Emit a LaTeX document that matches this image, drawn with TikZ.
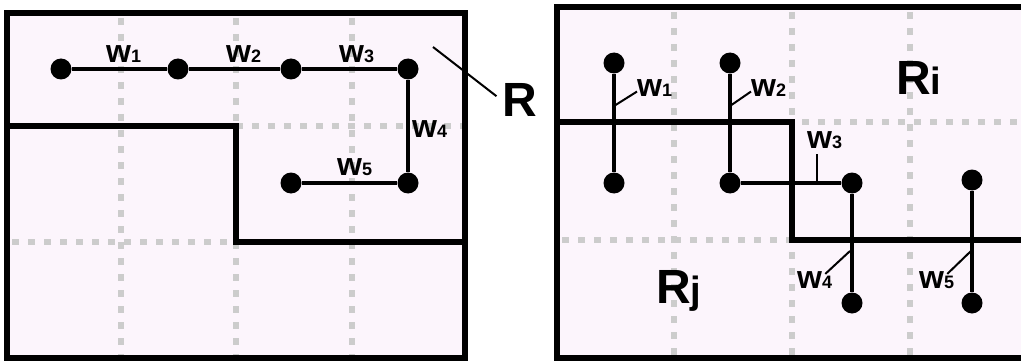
\documentclass[tikz,border=0pt]{standalone}
\usepackage{fontspec}
\setmainfont{Liberation Sans}
\usepackage{xcolor}
\definecolor{bgpink}{RGB}{252,245,252}
\newcommand{\wn}[1]{w{\fontsize{18}{18}\selectfont #1}}

\begin{document}
\begin{tikzpicture}[x=1pt, y=-1pt,
    panel/.style={draw, line width=6pt, fill=bgpink},
    gridline/.style={draw=gray!40, line width=6.5pt, dash pattern=on 7pt off 9pt},
    cut/.style={line width=6pt, line join=miter},
    wire/.style={line width=4.5pt},
    term/.style={circle, fill=black, minimum size=21pt, inner sep=0pt},
    lead/.style={line width=2pt},
    lab/.style={font=\bfseries\fontsize{32}{32}\selectfont, inner sep=0pt, anchor=base west},
    big/.style={font=\bfseries\fontsize{48}{48}\selectfont, inner sep=0pt, anchor=base west}
]
\useasboundingbox (0,0) rectangle (1021,361);
\clip (0,0) rectangle (1021,361);

% Left panel
\draw[panel] (7,13) rectangle (465,358);
\foreach \x in {121,236,352} \draw[gridline] (\x,18) -- (\x,358);
\foreach \y in {126,242} \draw[gridline] (12,\y) -- (465,\y);
\draw[cut] (7,126) -- (236,126) -- (236,242) -- (465,242);
\draw[line width=6pt] (7,13) rectangle (465,358);

% Left net
\node[term] (a1) at (61,69) {};
\node[term] (a2) at (178,69) {};
\node[term] (a3) at (291,69) {};
\node[term] (a4) at (408,69) {};
\node[term] (a5) at (408,183) {};
\node[term] (a6) at (291,183) {};
\draw[wire] (a1) -- (a2) -- (a3) -- (a4) -- (a5) -- (a6);

\node[lab] (lw1) at (106,63) {\wn{1}};
\node[lab] (lw2) at (226,63) {\wn{2}};
\node[lab] (lw3) at (339,63) {\wn{3}};
\node[lab] (lw4) at (412,137) {\wn{4}};
\node[lab] (lw5) at (337,175) {\wn{5}};

% Region label R
\node[big] (lR) at (502,117) {R};
\coordinate (kR) at (433,47);
\draw[lead, shorten >=7pt] (kR) -- (lR.west);

% Right panel
\draw[panel] (557,7) rectangle (1035,358);
\foreach \x in {674,792,910} \draw[gridline] (\x,12) -- (\x,358);
\foreach \y in {122,240} \draw[gridline] (562,\y) -- (1035,\y);
\draw[cut] (557,122) -- (792,122) -- (792,240) -- (1035,240);
\draw[line width=6pt] (557,7) rectangle (1035,358);

% Right nets
\node[term] (b1) at (614,63) {};
\node[term] (b2) at (614,183) {};
\node[term] (b3) at (730,63) {};
\node[term] (b4) at (730,183) {};
\node[term] (b5) at (852,183) {};
\node[term] (b6) at (852,303) {};
\node[term] (b7) at (972,180) {};
\node[term] (b8) at (972,303) {};
\draw[wire] (b1) -- (b2);
\draw[wire] (b3) -- (b4) -- (b5) -- (b6);
\draw[wire] (b7) -- (b8);

\node[lab] (rw1) at (637,97) {\wn{1}};
\node[lab] (rw2) at (751,97) {\wn{2}};
\node[lab] (rw3) at (807,148) {\wn{3}};
\node[lab] (rw4) at (797,288) {\wn{4}};
\node[lab] (rw5) at (919,288) {\wn{5}};

% Leaders from wires to labels
\coordinate (k1) at (614,106);
\coordinate (k2) at (730,106);
\coordinate (k3) at (817,183);
\coordinate (k4) at (850,251);
\coordinate (k5) at (971,251);
\draw[lead] (k1) -- ([yshift=-3pt]rw1.west);
\draw[lead] (k2) -- ([yshift=-3pt]rw2.west);
\draw[lead, shorten >=6pt] (k3) -- (k3 |- rw3.south);
\draw[lead] (k4) -- ([xshift=-7pt, yshift=-3pt]rw4.north east);
\draw[lead] (k5) -- ([xshift=-7pt, yshift=-3pt]rw5.north east);

% Region labels
\node[big] (lRi) at (896,95) {R{\fontsize{38}{38}\selectfont i}};
\node[big] (lRj) at (656,303) {R{\fontsize{38}{38}\selectfont j}};
\end{tikzpicture}
\end{document}
